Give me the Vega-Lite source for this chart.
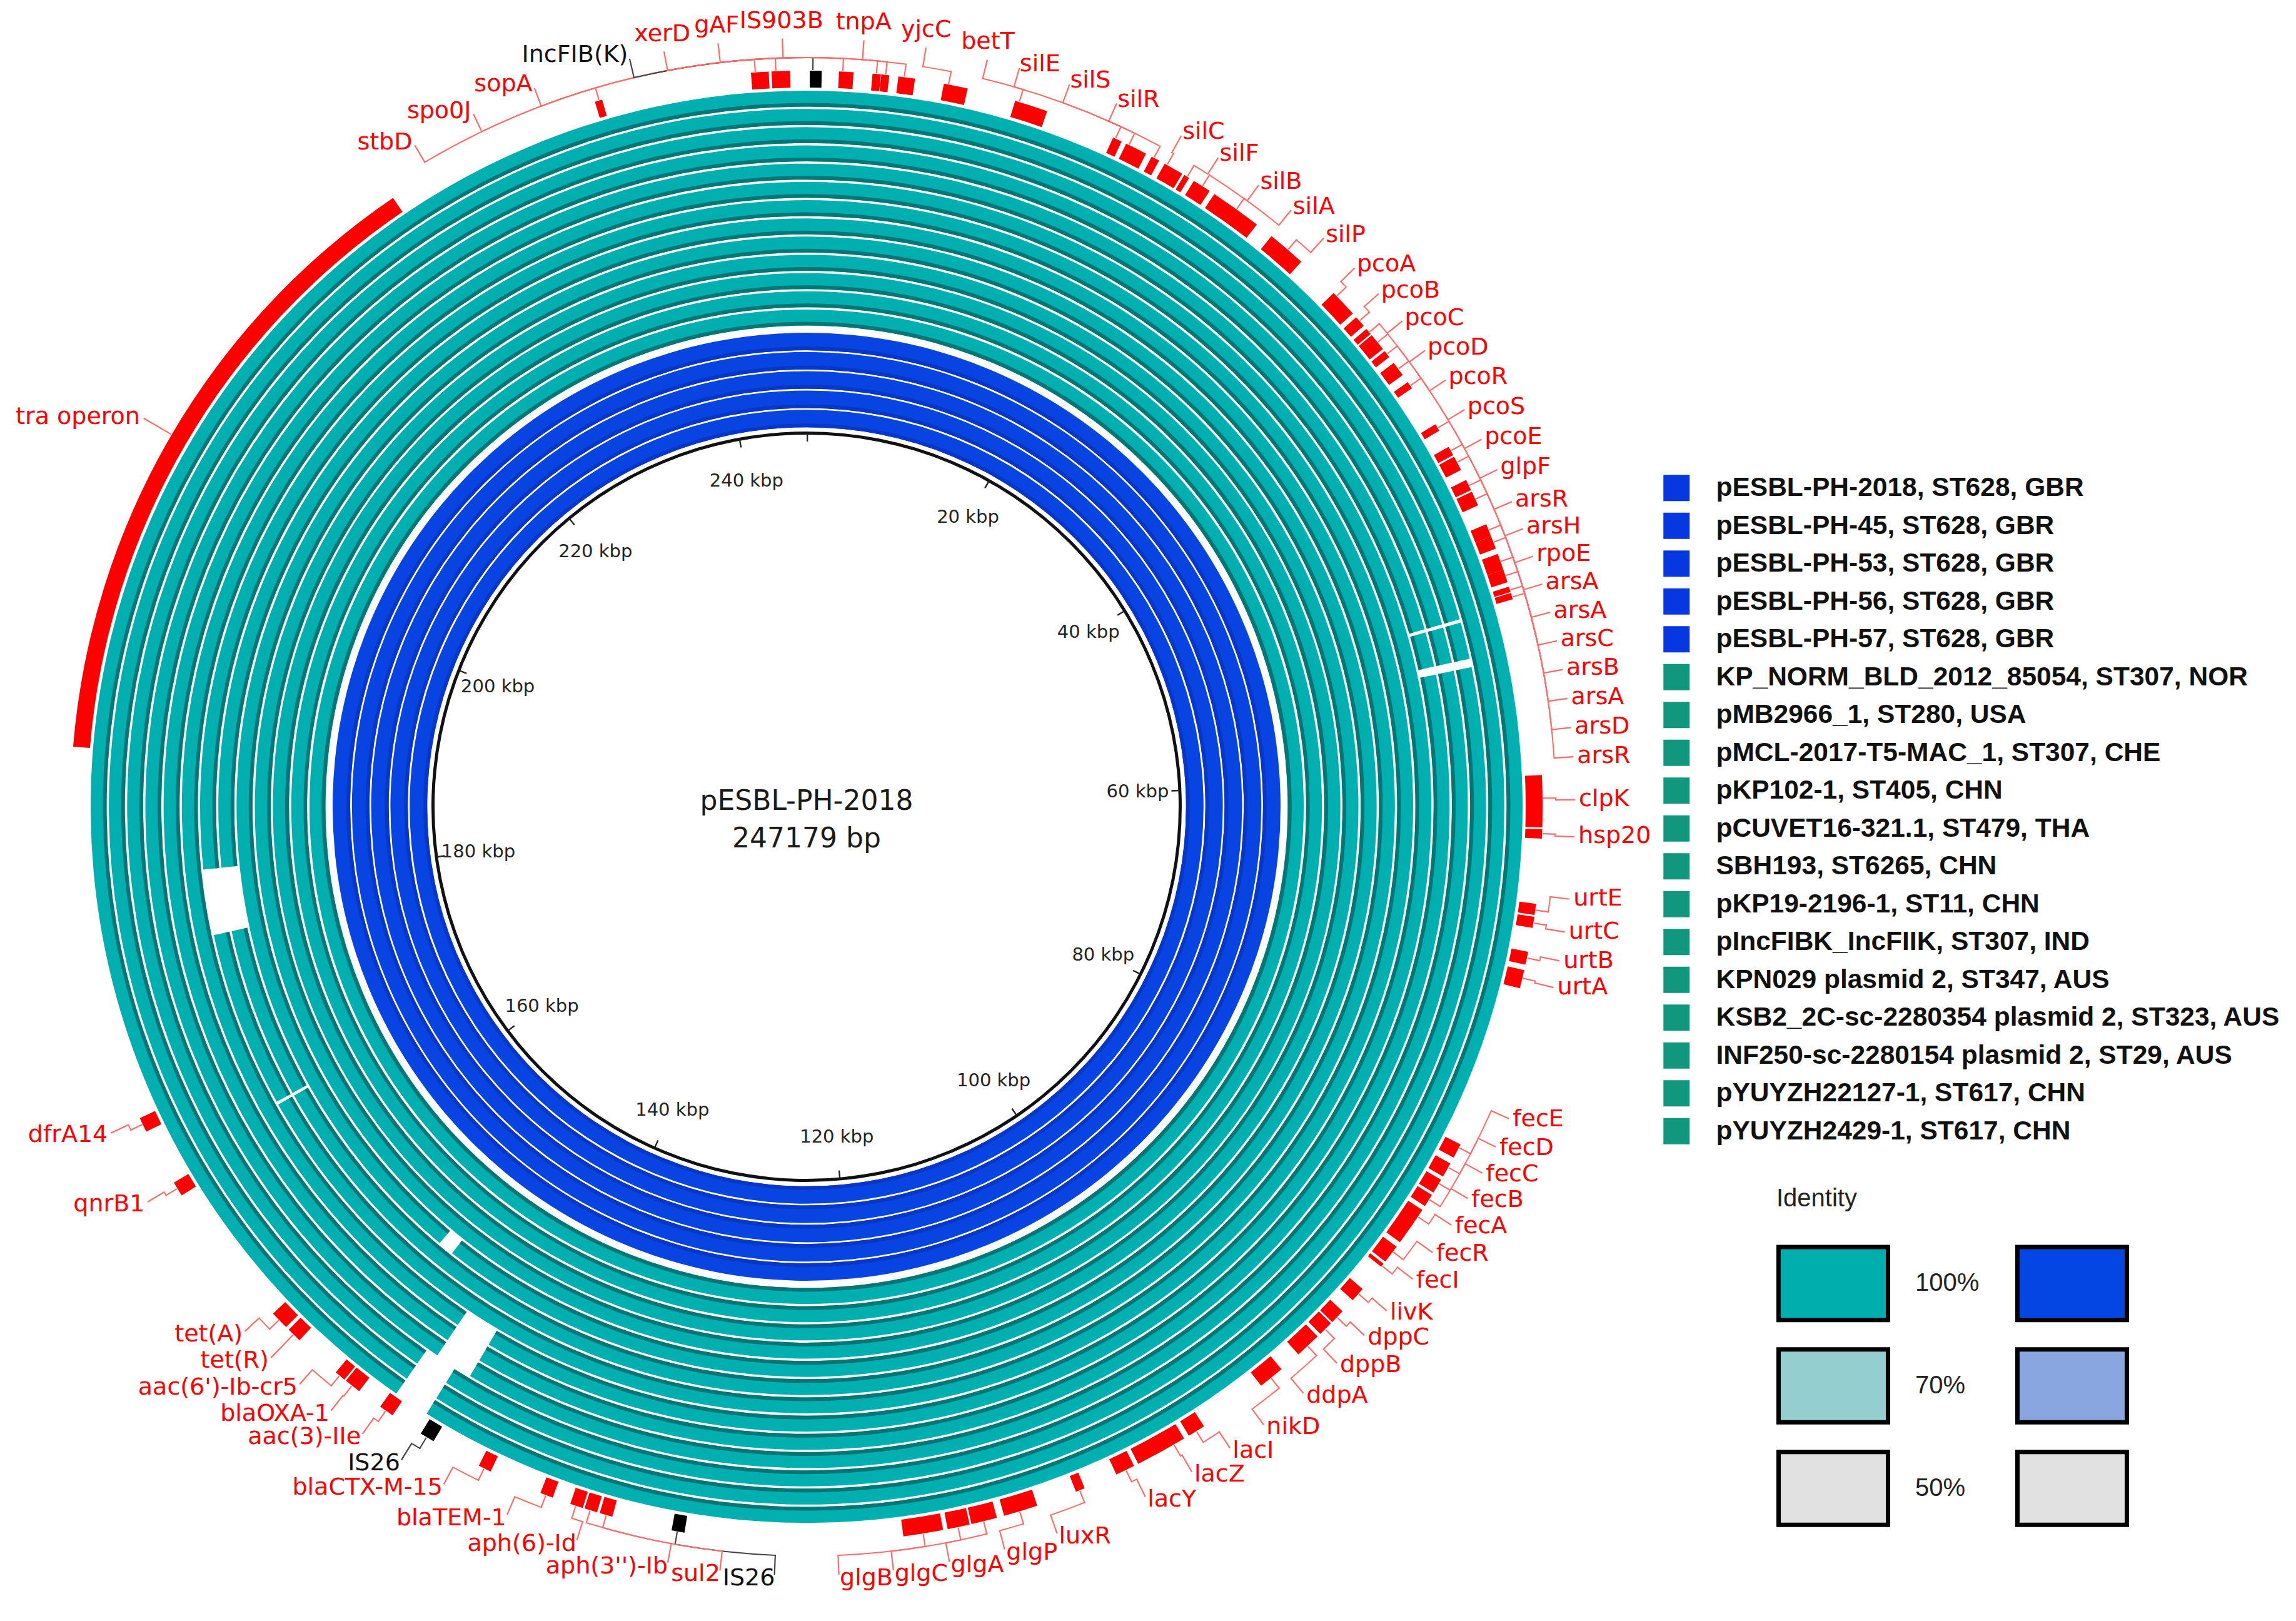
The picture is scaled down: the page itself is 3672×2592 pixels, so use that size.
{
  "$schema": "https://vega.github.io/schema/vega-lite/v6.json",
  "width": 2580,
  "height": 2580,
  "autosize": {"type": "none"},
  "padding": {"left": 0, "top": 0, "right": 1092, "bottom": 12},
  "background": "white",
  "config": {"view": {"stroke": null}},
  "datasets": {
    "rings": [
      {"sample": "pESBL-PH-2018, ST628, GBR", "track": 1, "start": 0, "end": 247179},
      {"sample": "pESBL-PH-45, ST628, GBR", "track": 2, "start": 0, "end": 247179},
      {"sample": "pESBL-PH-53, ST628, GBR", "track": 3, "start": 0, "end": 247179},
      {"sample": "pESBL-PH-56, ST628, GBR", "track": 4, "start": 0, "end": 247179},
      {"sample": "pESBL-PH-57, ST628, GBR", "track": 5, "start": 0, "end": 247179},
      {"sample": "KP_NORM_BLD_2012_85054, ST307, NOR", "track": 6, "start": 0, "end": 247179},
      {"sample": "pMB2966_1, ST280, USA", "track": 7, "start": 0, "end": 247179},
      {"sample": "pMCL-2017-T5-MAC_1, ST307, CHE", "track": 8, "start": 0, "end": 247179},
      {"sample": "pKP102-1, ST405, CHN", "track": 9, "start": 0, "end": 247179},
      {"sample": "pCUVET16-321.1, ST479, THA", "track": 10, "start": 0, "end": 150000},
      {"sample": "pCUVET16-321.1, ST479, THA", "track": 10, "start": 151100, "end": 247179},
      {"sample": "SBH193, ST6265, CHN", "track": 11, "start": 0, "end": 165200},
      {"sample": "SBH193, ST6265, CHN", "track": 11, "start": 165400, "end": 177000},
      {"sample": "SBH193, ST6265, CHN", "track": 11, "start": 181300, "end": 247179},
      {"sample": "pKP19-2196-1, ST11, CHN", "track": 12, "start": 0, "end": 165200},
      {"sample": "pKP19-2196-1, ST11, CHN", "track": 12, "start": 165400, "end": 177000},
      {"sample": "pKP19-2196-1, ST11, CHN", "track": 12, "start": 181300, "end": 247179},
      {"sample": "pIncFIBK_IncFIIK, ST307, IND", "track": 13, "start": 0, "end": 144600},
      {"sample": "pIncFIBK_IncFIIK, ST307, IND", "track": 13, "start": 146900, "end": 247179},
      {"sample": "KPN029 plasmid 2, ST347, AUS", "track": 14, "start": 0, "end": 50800},
      {"sample": "KPN029 plasmid 2, ST347, AUS", "track": 14, "start": 51000, "end": 53150},
      {"sample": "KPN029 plasmid 2, ST347, AUS", "track": 14, "start": 53650, "end": 144600},
      {"sample": "KPN029 plasmid 2, ST347, AUS", "track": 14, "start": 146900, "end": 247179},
      {"sample": "KSB2_2C-sc-2280354 plasmid 2, ST323, AUS", "track": 15, "start": 0, "end": 50800},
      {"sample": "KSB2_2C-sc-2280354 plasmid 2, ST323, AUS", "track": 15, "start": 51000, "end": 53150},
      {"sample": "KSB2_2C-sc-2280354 plasmid 2, ST323, AUS", "track": 15, "start": 53650, "end": 144600},
      {"sample": "KSB2_2C-sc-2280354 plasmid 2, ST323, AUS", "track": 15, "start": 146900, "end": 247179},
      {"sample": "INF250-sc-2280154 plasmid 2, ST29, AUS", "track": 16, "start": 0, "end": 50800},
      {"sample": "INF250-sc-2280154 plasmid 2, ST29, AUS", "track": 16, "start": 51000, "end": 53150},
      {"sample": "INF250-sc-2280154 plasmid 2, ST29, AUS", "track": 16, "start": 53650, "end": 145600},
      {"sample": "INF250-sc-2280154 plasmid 2, ST29, AUS", "track": 16, "start": 147600, "end": 247179},
      {"sample": "pYUYZH22127-1, ST617, CHN", "track": 17, "start": 0, "end": 145600},
      {"sample": "pYUYZH22127-1, ST617, CHN", "track": 17, "start": 147600, "end": 247179},
      {"sample": "pYUYZH2429-1, ST617, CHN", "track": 18, "start": 0, "end": 145600},
      {"sample": "pYUYZH2429-1, ST617, CHN", "track": 18, "start": 147600, "end": 247179}
    ],
    "genes": [
      {"gene": "stbD", "start": 235700, "end": 236100, "kind": "gene", "anchor": 235900, "label_at": 226100},
      {"gene": "spo0J", "start": 244200, "end": 245150, "kind": "gene", "anchor": 244400, "label_at": 229500},
      {"gene": "sopA", "start": 245300, "end": 246300, "kind": "gene", "anchor": 245500, "label_at": 232900},
      {"gene": "IncFIB(K)", "start": 170, "end": 810, "kind": "mge", "anchor": 300, "label_at": -9179},
      {"gene": "xerD", "start": 3530, "end": 3980, "kind": "gene", "anchor": 3700, "label_at": -7379},
      {"gene": "gAF", "start": 4000, "end": 4430, "kind": "gene", "anchor": 4200, "label_at": -4579},
      {"gene": "IS903B", "start": 1730, "end": 2510, "kind": "gene", "anchor": 1900, "label_at": -1279},
      {"gene": "tnpA", "start": 4920, "end": 5820, "kind": "gene", "anchor": 5200, "label_at": 2900},
      {"gene": "yjcC", "start": 7380, "end": 8680, "kind": "gene", "anchor": 7600, "label_at": 6100},
      {"gene": "betT", "start": 11300, "end": 13100, "kind": "gene", "anchor": 11500, "label_at": 9300},
      {"gene": "silE", "start": 16900, "end": 17400, "kind": "gene", "anchor": 17000, "label_at": 11000},
      {"gene": "silS", "start": 17670, "end": 18860, "kind": "gene", "anchor": 17800, "label_at": 13700},
      {"gene": "silR", "start": 19200, "end": 19650, "kind": "gene", "anchor": 19300, "label_at": 16300},
      {"gene": "silC", "start": 19990, "end": 21070, "kind": "gene", "anchor": 20100, "label_at": 20000},
      {"gene": "silF", "start": 21200, "end": 21500, "kind": "gene", "anchor": 21350, "label_at": 22200},
      {"gene": "silB", "start": 21800, "end": 22800, "kind": "gene", "anchor": 22300, "label_at": 24700},
      {"gene": "silA", "start": 23100, "end": 25900, "kind": "gene", "anchor": 24500, "label_at": 26800},
      {"gene": "silP", "start": 26900, "end": 29000, "kind": "gene", "anchor": 28000, "label_at": 29000},
      {"gene": "pcoA", "start": 31400, "end": 32900, "kind": "gene", "anchor": 31600, "label_at": 31200},
      {"gene": "pcoB", "start": 33170, "end": 33780, "kind": "gene", "anchor": 33400, "label_at": 33000},
      {"gene": "pcoC", "start": 34000, "end": 34350, "kind": "gene", "anchor": 34200, "label_at": 34850},
      {"gene": "pcoD", "start": 34440, "end": 35390, "kind": "gene", "anchor": 34900, "label_at": 36750},
      {"gene": "pcoR", "start": 35540, "end": 35940, "kind": "gene", "anchor": 35700, "label_at": 38600},
      {"gene": "pcoS", "start": 36330, "end": 37140, "kind": "gene", "anchor": 36700, "label_at": 40400},
      {"gene": "pcoE", "start": 37600, "end": 38000, "kind": "gene", "anchor": 37800, "label_at": 42150},
      {"gene": "glpF", "start": 40300, "end": 40700, "kind": "gene", "anchor": 40500, "label_at": 43900},
      {"gene": "arsR", "start": 41700, "end": 42200, "kind": "gene", "anchor": 41900, "label_at": 45700},
      {"gene": "arsH", "start": 42300, "end": 43100, "kind": "gene", "anchor": 42600, "label_at": 47200},
      {"gene": "rpoE", "start": 43700, "end": 44300, "kind": "gene", "anchor": 44000, "label_at": 48700},
      {"gene": "arsA", "start": 44400, "end": 45200, "kind": "gene", "anchor": 44800, "label_at": 50200},
      {"gene": "arsA", "start": 46300, "end": 47000, "kind": "gene", "anchor": 46600, "label_at": 51700},
      {"gene": "arsC", "start": 47000, "end": 47700, "kind": "gene", "anchor": 47300, "label_at": 53200},
      {"gene": "arsB", "start": 48000, "end": 48900, "kind": "gene", "anchor": 48400, "label_at": 54700},
      {"gene": "arsA", "start": 48900, "end": 49600, "kind": "gene", "anchor": 49200, "label_at": 56200},
      {"gene": "arsD", "start": 49850, "end": 50150, "kind": "gene", "anchor": 50000, "label_at": 57700},
      {"gene": "arsR", "start": 50200, "end": 50550, "kind": "gene", "anchor": 50400, "label_at": 59200},
      {"gene": "clpK", "start": 60100, "end": 62900, "kind": "gene", "anchor": 61300, "label_at": 61400},
      {"gene": "hsp20", "start": 63000, "end": 63500, "kind": "gene", "anchor": 63200, "label_at": 63300},
      {"gene": "urtE", "start": 67000, "end": 67600, "kind": "gene", "anchor": 67300, "label_at": 66500},
      {"gene": "urtC", "start": 67700, "end": 68300, "kind": "gene", "anchor": 68000, "label_at": 68200},
      {"gene": "urtB", "start": 69600, "end": 70300, "kind": "gene", "anchor": 69900, "label_at": 69700},
      {"gene": "urtA", "start": 70600, "end": 71600, "kind": "gene", "anchor": 71000, "label_at": 71100},
      {"gene": "fecE", "start": 80550, "end": 81340, "kind": "gene", "anchor": 80700, "label_at": 78200},
      {"gene": "fecD", "start": 81700, "end": 82500, "kind": "gene", "anchor": 81900, "label_at": 79800},
      {"gene": "fecC", "start": 82700, "end": 83500, "kind": "gene", "anchor": 82900, "label_at": 81300},
      {"gene": "fecB", "start": 83650, "end": 84350, "kind": "gene", "anchor": 83900, "label_at": 82800},
      {"gene": "fecA", "start": 84600, "end": 86700, "kind": "gene", "anchor": 85000, "label_at": 84400},
      {"gene": "fecR", "start": 87000, "end": 88000, "kind": "gene", "anchor": 87300, "label_at": 86100},
      {"gene": "fecI", "start": 88150, "end": 88350, "kind": "gene", "anchor": 88250, "label_at": 87800},
      {"gene": "livK", "start": 89900, "end": 90700, "kind": "gene", "anchor": 90200, "label_at": 89900},
      {"gene": "dppC", "start": 91500, "end": 92300, "kind": "gene", "anchor": 91900, "label_at": 91600},
      {"gene": "dppB", "start": 92400, "end": 93200, "kind": "gene", "anchor": 92800, "label_at": 93600},
      {"gene": "ddpA", "start": 93400, "end": 94800, "kind": "gene", "anchor": 94100, "label_at": 95900},
      {"gene": "nikD", "start": 96000, "end": 97400, "kind": "gene", "anchor": 96700, "label_at": 98500},
      {"gene": "lacI", "start": 101150, "end": 102100, "kind": "gene", "anchor": 101600, "label_at": 100600},
      {"gene": "lacZ", "start": 102400, "end": 105200, "kind": "gene", "anchor": 103000, "label_at": 102900},
      {"gene": "lacY", "start": 105450, "end": 106500, "kind": "gene", "anchor": 105900, "label_at": 105600},
      {"gene": "luxR", "start": 108350, "end": 108850, "kind": "gene", "anchor": 108600, "label_at": 110500},
      {"gene": "glgP", "start": 111050, "end": 112900, "kind": "gene", "anchor": 112000, "label_at": 113300},
      {"gene": "glgA", "start": 113300, "end": 114700, "kind": "gene", "anchor": 114000, "label_at": 116200},
      {"gene": "glgC", "start": 114800, "end": 116000, "kind": "gene", "anchor": 115400, "label_at": 119100},
      {"gene": "glgB", "start": 116250, "end": 118400, "kind": "gene", "anchor": 117300, "label_at": 121900},
      {"gene": "IS26", "start": 130150, "end": 130850, "kind": "mge", "anchor": 130500, "label_at": 125200},
      {"gene": "sul2", "start": 134100, "end": 134800, "kind": "gene", "anchor": 134400, "label_at": 128000},
      {"gene": "aph(3'')-Ib", "start": 134950, "end": 135650, "kind": "gene", "anchor": 135300, "label_at": 130700},
      {"gene": "aph(6)-Id", "start": 135750, "end": 136450, "kind": "gene", "anchor": 136100, "label_at": 135500},
      {"gene": "blaTEM-1", "start": 137450, "end": 138150, "kind": "gene", "anchor": 137800, "label_at": 139300},
      {"gene": "blaCTX-M-15", "start": 141050, "end": 141750, "kind": "gene", "anchor": 141400, "label_at": 142900},
      {"gene": "IS26", "start": 144500, "end": 145300, "kind": "mge", "anchor": 144900, "label_at": 145400},
      {"gene": "aac(3)-IIe", "start": 147100, "end": 147900, "kind": "gene", "anchor": 147500, "label_at": 147800},
      {"gene": "blaOXA-1", "start": 149300, "end": 150200, "kind": "gene", "anchor": 149750, "label_at": 149800},
      {"gene": "aac(6')-Ib-cr5", "start": 150300, "end": 150900, "kind": "gene", "anchor": 150600, "label_at": 151900},
      {"gene": "tet(R)", "start": 153500, "end": 154300, "kind": "gene", "anchor": 153900, "label_at": 153900},
      {"gene": "tet(A)", "start": 154500, "end": 155500, "kind": "gene", "anchor": 155000, "label_at": 155800},
      {"gene": "qnrB1", "start": 163500, "end": 164300, "kind": "gene", "anchor": 163900, "label_at": 164100},
      {"gene": "dfrA14", "start": 167400, "end": 168200, "kind": "gene", "anchor": 167800, "label_at": 168100},
      {"gene": "tra operon", "start": 188600, "end": 223700, "kind": "gene", "anchor": 206200, "label_at": 206200}
    ],
    "ticks": [
      {"pos": 0, "label": ""},
      {"pos": 20000, "label": "20 kbp"},
      {"pos": 40000, "label": "40 kbp"},
      {"pos": 60000, "label": "60 kbp"},
      {"pos": 80000, "label": "80 kbp"},
      {"pos": 100000, "label": "100 kbp"},
      {"pos": 120000, "label": "120 kbp"},
      {"pos": 140000, "label": "140 kbp"},
      {"pos": 160000, "label": "160 kbp"},
      {"pos": 180000, "label": "180 kbp"},
      {"pos": 200000, "label": "200 kbp"},
      {"pos": 220000, "label": "220 kbp"},
      {"pos": 240000, "label": "240 kbp"}
    ],
    "identity": [
      {"key": "t100"}, {"key": "t70"}, {"key": "t50"}, {"key": "b100"}, {"key": "b70"}, {"key": "b50"}
    ]
  },
  "layer": [
    {
      "data": {"name": "rings"},
      "transform": [{"filter": "datum.track <= 5"}],
      "mark": {"type": "arc", "radius2Offset": -28, "color": "#0844e2"},
      "encoding": {
        "theta": {"field": "start", "type": "quantitative", "scale": {"domain": [0, 247179], "nice": false}, "stack": null},
        "theta2": {"field": "end"},
        "radius": {"field": "track", "type": "quantitative", "scale": {"type": "linear", "domain": [0, 5, 6, 18], "range": [604, 758, 795, 1145]}},
        "radius2": {"field": "track"}
      }
    },
    {
      "data": {"name": "rings"},
      "transform": [{"filter": "datum.track <= 5"}],
      "mark": {"type": "arc", "radiusOffset": -22, "radius2Offset": -28, "color": "#0836c8"},
      "encoding": {
        "theta": {"field": "start", "type": "quantitative", "scale": {"domain": [0, 247179], "nice": false}, "stack": null},
        "theta2": {"field": "end"},
        "radius": {"field": "track", "type": "quantitative", "scale": {"type": "linear", "domain": [0, 5, 6, 18], "range": [604, 758, 795, 1145]}},
        "radius2": {"field": "track"}
      }
    },
    {
      "data": {"name": "rings"},
      "transform": [{"filter": "datum.track > 5"}],
      "mark": {"type": "arc", "radius2Offset": -25.5, "color": "#00afaf"},
      "encoding": {
        "theta": {"field": "start", "type": "quantitative", "scale": {"domain": [0, 247179], "nice": false}, "stack": null},
        "theta2": {"field": "end"},
        "radius": {"field": "track", "type": "quantitative", "scale": {"type": "linear", "domain": [0, 5, 6, 18], "range": [604, 758, 795, 1145]}},
        "radius2": {"field": "track"}
      }
    },
    {
      "data": {"name": "rings"},
      "transform": [{"filter": "datum.track > 5"}],
      "mark": {"type": "arc", "radiusOffset": -19.5, "radius2Offset": -25.5, "color": "#067575"},
      "encoding": {
        "theta": {"field": "start", "type": "quantitative", "scale": {"domain": [0, 247179], "nice": false}, "stack": null},
        "theta2": {"field": "end"},
        "radius": {"field": "track", "type": "quantitative", "scale": {"type": "linear", "domain": [0, 5, 6, 18], "range": [604, 758, 795, 1145]}},
        "radius2": {"field": "track"}
      }
    },
    {
      "data": {"values": [{"start": 0, "end": 247179}]},
      "mark": {"type": "arc", "radius": 600, "radius2": 595, "color": "#111111"},
      "encoding": {
        "theta": {"field": "start", "type": "quantitative", "scale": {"domain": [0, 247179], "nice": false}, "stack": null},
        "theta2": {"field": "end"}
      }
    },
    {
      "data": {"name": "ticks"},
      "mark": {"type": "arc", "radius": 597, "radius2": 584, "theta2Offset": 0.004, "color": "#222222"},
      "encoding": {
        "theta": {"field": "pos", "type": "quantitative", "scale": {"domain": [0, 247179], "nice": false}, "stack": null},
        "theta2": {"field": "pos"}
      }
    },
    {
      "data": {"name": "ticks"},
      "transform": [{"filter": "datum.label != ''"}],
      "mark": {"type": "text", "radius": 530, "align": "center", "baseline": "middle", "font": "DejaVu Sans", "fontSize": 29, "color": "#222222"},
      "encoding": {
        "theta": {"field": "pos", "type": "quantitative", "scale": {"domain": [0, 247179], "nice": false}, "stack": null},
        "text": {"field": "label"}
      }
    },
    {
      "data": {"name": "genes"},
      "mark": {"type": "arc", "radius": 1177, "radius2": 1150},
      "encoding": {
        "theta": {"field": "start", "type": "quantitative", "scale": {"domain": [0, 247179], "nice": false}, "stack": null},
        "theta2": {"field": "end"},
        "color": {"condition": {"test": "datum.kind === 'mge'", "value": "#000000"}, "value": "#ff0000"}
      }
    },
    {
      "data": {"name": "genes"},
      "mark": {"type": "arc", "radius": 1199, "radius2": 1178, "theta2Offset": 0.0018},
      "encoding": {
        "theta": {"field": "anchor", "type": "quantitative", "scale": {"domain": [0, 247179], "nice": false}, "stack": null},
        "theta2": {"field": "anchor"},
        "color": {"condition": {"test": "datum.kind === 'mge'", "value": "#444444"}, "value": "#ff6a6a"}
      }
    },
    {
      "data": {"name": "genes"},
      "mark": {"type": "arc", "radius": 1199, "radius2": 1197},
      "encoding": {
        "theta": {"field": "anchor", "type": "quantitative", "scale": {"domain": [0, 247179], "nice": false}, "stack": null},
        "theta2": {"field": "label_at"},
        "color": {"condition": {"test": "datum.kind === 'mge'", "value": "#444444"}, "value": "#ff6a6a"}
      }
    },
    {
      "data": {"name": "genes"},
      "mark": {"type": "arc", "radius": 1229, "radius2": 1197, "theta2Offset": 0.0018},
      "encoding": {
        "theta": {"field": "label_at", "type": "quantitative", "scale": {"domain": [0, 247179], "nice": false}, "stack": null},
        "theta2": {"field": "label_at"},
        "color": {"condition": {"test": "datum.kind === 'mge'", "value": "#444444"}, "value": "#ff6a6a"}
      }
    },
    {
      "data": {"name": "genes"},
      "transform": [{"filter": "(datum.label_at + 247179) % 247179 >= 10000 && (datum.label_at + 247179) % 247179 < 124000"}],
      "mark": {"type": "text", "radius": 1235, "align": "left", "baseline": "middle", "font": "DejaVu Sans", "fontSize": 38},
      "encoding": {
        "theta": {"field": "label_at", "type": "quantitative", "scale": {"domain": [0, 247179], "nice": false}, "stack": null},
        "text": {"field": "gene"},
        "color": {"condition": {"test": "datum.kind === 'mge'", "value": "#111111"}, "value": "#ff0000"}
      }
    },
    {
      "data": {"name": "genes"},
      "transform": [{"filter": "(datum.label_at + 247179) % 247179 >= 124000 && (datum.label_at + 247179) % 247179 < 239000"}],
      "mark": {"type": "text", "radius": 1235, "align": "right", "baseline": "middle", "font": "DejaVu Sans", "fontSize": 38},
      "encoding": {
        "theta": {"field": "label_at", "type": "quantitative", "scale": {"domain": [0, 247179], "nice": false}, "stack": null},
        "text": {"field": "gene"},
        "color": {"condition": {"test": "datum.kind === 'mge'", "value": "#111111"}, "value": "#ff0000"}
      }
    },
    {
      "data": {"name": "genes"},
      "transform": [{"filter": "(datum.label_at + 247179) % 247179 >= 239000 || (datum.label_at + 247179) % 247179 < 10000"}],
      "mark": {"type": "text", "radius": 1238, "align": "center", "baseline": "bottom", "font": "DejaVu Sans", "fontSize": 38},
      "encoding": {
        "theta": {"field": "label_at", "type": "quantitative", "scale": {"domain": [0, 247179], "nice": false}, "stack": null},
        "text": {"field": "gene"},
        "color": {"condition": {"test": "datum.kind === 'mge'", "value": "#111111"}, "value": "#ff0000"}
      }
    },
    {
      "data": {"values": [{"t": "pESBL-PH-2018\n247179 bp"}]},
      "mark": {"type": "text", "lineBreak": "\n", "lineHeight": 60, "align": "center", "baseline": "middle", "font": "DejaVu Sans", "fontSize": 44, "dy": -8, "color": "#1a1a1a"},
      "encoding": {
        "text": {"field": "t"}
      }
    },
    {
      "data": {"name": "rings"},
      "mark": {"type": "arc", "radius": 0, "radius2": 0},
      "encoding": {
        "color": {
          "field": "sample",
          "type": "nominal",
          "scale": {
            "domain": [
              "pESBL-PH-2018, ST628, GBR", "pESBL-PH-45, ST628, GBR", "pESBL-PH-53, ST628, GBR", "pESBL-PH-56, ST628, GBR", "pESBL-PH-57, ST628, GBR",
              "KP_NORM_BLD_2012_85054, ST307, NOR", "pMB2966_1, ST280, USA", "pMCL-2017-T5-MAC_1, ST307, CHE", "pKP102-1, ST405, CHN",
              "pCUVET16-321.1, ST479, THA", "SBH193, ST6265, CHN", "pKP19-2196-1, ST11, CHN", "pIncFIBK_IncFIIK, ST307, IND",
              "KPN029 plasmid 2, ST347, AUS", "KSB2_2C-sc-2280354 plasmid 2, ST323, AUS", "INF250-sc-2280154 plasmid 2, ST29, AUS",
              "pYUYZH22127-1, ST617, CHN", "pYUYZH2429-1, ST617, CHN"
            ],
            "range": [
              "#0638e2", "#0638e2", "#0638e2", "#0638e2", "#0638e2",
              "#11977d", "#11977d", "#11977d", "#11977d", "#11977d", "#11977d", "#11977d", "#11977d", "#11977d", "#11977d", "#11977d", "#11977d", "#11977d"
            ]
          },
          "legend": {
            "orient": "none", "legendX": 2660, "legendY": 759, "title": null, "padding": 0,
            "symbolType": "square", "symbolSize": 1764, "symbolStrokeWidth": 0, "symbolOpacity": 1,
            "labelFont": "Liberation Sans", "labelFontWeight": "bold", "labelFontSize": 42.5, "labelColor": "#111111",
            "labelOffset": 42, "labelLimit": 3000, "rowPadding": 17.5
          }
        }
      }
    },
    {
      "data": {"name": "identity"},
      "mark": {"type": "arc", "radius": 0, "radius2": 0},
      "encoding": {
        "fill": {
          "field": "key",
          "type": "nominal",
          "scale": {
            "domain": ["t100", "t70", "t50", "b100", "b70", "b50"],
            "range": ["#00aeae", "#95cece", "#e1e1e1", "#0346e4", "#89a6e1", "#e1e1e1"]
          },
          "legend": {
            "orient": "none", "legendX": 2841, "legendY": 1897, "padding": 0,
            "title": "Identity", "titleFont": "Liberation Sans", "titleFontSize": 40, "titleFontWeight": "normal", "titleColor": "#222222", "titlePadding": 24,
            "columns": 2, "columnPadding": 46, "rowPadding": -8,
            "symbolType": "M-1,-0.667H1V0.667H-1Z", "symbolSize": 30625, "symbolStrokeColor": "#000000", "symbolStrokeWidth": 7, "symbolOpacity": 1,
            "labelFont": "Liberation Sans", "labelFontSize": 40, "labelColor": "#222222", "labelOffset": 40, "labelLimit": 500,
            "labelExpr": "datum.value === 't100' ? '100%' : datum.value === 't70' ? '70%' : datum.value === 't50' ? '50%' : ''"
          }
        }
      }
    }
  ]
}
